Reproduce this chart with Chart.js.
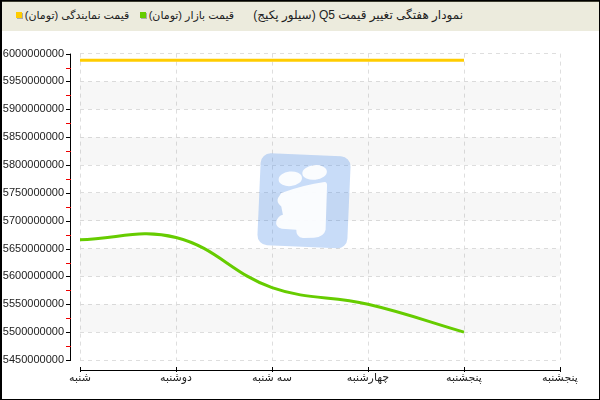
<!DOCTYPE html>
<html>
<head>
<meta charset="utf-8">
<script src="https://cdn.jsdelivr.net/npm/chart.js@4"></script>
<style>
    body { margin: 0; background: #fff; }
    #frame { position: relative; width: 600px; height: 400px; box-sizing: border-box; border: 1px solid #000; border-left-width: 2px; overflow: hidden; }
    #header { position: absolute; left: 0; top: 0; width: 100%; height: 30px; background: #ecebdd; border-top: 1px solid #3d3d30; box-sizing: border-box; }
    #header-inner { position: absolute; right: 136px; top: 6px; direction: rtl; white-space: nowrap; font: 12px 'Liberation Sans', 'DejaVu Sans', sans-serif; color: #222; }
    .legend-item { font-size: 11px; }
    .legend-box { display: inline-block; width: 6px; height: 6px; margin: 0 3px 0 0; box-shadow: 1px 1px 0 #aaa; vertical-align: 1px; }
    #chart-wrap { position: absolute; left: 0; top: 30px; width: 597px; height: 369px; }
</style>
</head>
<body>
<div id="frame">
    <div id="header"><div id="header-inner"></div></div>
    <div id="chart-wrap"><canvas id="weekly-price-chart"></canvas></div>
</div>
<script>
const chartTitle = 'نمودار هفتگی تغییر قیمت Q5 (سیلور پکیج)';
const days = ['شنبه', 'دوشنبه', 'سه شنبه', 'چهارشنبه', 'پنجشنبه', 'پنجشنبه'];
const marketLabel = 'قیمت بازار (تومان)';
const agencyLabel = 'قیمت نمایندگی (تومان)';
const marketPrice = [5666000000, 5670000000, 5580000000, 5550000000, 5500000000];
const agencyPrice = [5988000000, 5988000000, 5988000000, 5988000000, 5988000000];
const yMin = 5450000000;
const yMax = 6000000000;
const yStep = 50000000;

const marketColor = '#66cc00';
const agencyColor = '#ffcc00';
const labelFont = { family: "'Liberation Sans', 'DejaVu Sans', sans-serif", size: 11 };

function renderHeader() {
    const el = document.getElementById('header-inner');
    el.innerHTML = `
        <span>${chartTitle}</span>
        <span class="legend-item" style="margin-right:16px">${marketLabel}<span class="legend-box" style="background:${marketColor}"></span></span>
        <span class="legend-item" style="margin-right:7px">${agencyLabel}<span class="legend-box" style="background:${agencyColor}"></span></span>
    `;
}

// striped bands + watermark behind the lines
const backdropPlugin = {
    id: 'backdrop',
    beforeDatasetsDraw(chart) {
        const { ctx, chartArea: a, scales: { y } } = chart;
        ctx.save();
        ctx.fillStyle = 'rgba(0,0,0,0.03)';
        for (let v = yMin + yStep; v < yMax; v += 2 * yStep) {
            const top = y.getPixelForValue(v + yStep);
            const bottom = y.getPixelForValue(v);
            ctx.fillRect(a.left, top, a.right - a.left, bottom - top);
        }

        // logo watermark
        const cx = (a.left + a.right) / 2 - 16;
        const cy = (a.top + a.bottom) / 2 - 6;
        ctx.translate(cx, cy);
        ctx.save();
        ctx.rotate(2.5 * Math.PI / 180);
        ctx.fillStyle = 'rgba(74,138,232,0.3)';
        ctx.beginPath();
        ctx.roundRect(-45, -46, 90, 92, 10);
        ctx.fill();
        ctx.restore();
        ctx.fillStyle = 'rgba(255,255,255,0.92)';
        ctx.beginPath();
        ctx.ellipse(-13.7, -22, 11.7, 7.3, -0.1, 0, Math.PI * 2);
        ctx.fill();
        ctx.beginPath();
        ctx.ellipse(10.6, -28.4, 12.3, 7.3, -0.1, 0, Math.PI * 2);
        ctx.fill();
        ctx.beginPath();
        ctx.moveTo(-22.7, -7.7);
        ctx.quadraticCurveTo(0, -16, 20.6, -18.7);
        ctx.quadraticCurveTo(23.5, -18.5, 23, -14);
        ctx.lineTo(21.6, 28.9);
        ctx.quadraticCurveTo(20, 36, 10, 37);
        ctx.lineTo(-1, 37.3);
        ctx.quadraticCurveTo(-8, 36, -7.7, 28.9);
        ctx.lineTo(-22, 28);
        ctx.quadraticCurveTo(-29, 26, -27.7, 20.6);
        ctx.quadraticCurveTo(-26, 15, -21.1, 13.9);
        ctx.lineTo(-22.7, 5.6);
        ctx.quadraticCurveTo(-28, 2, -26, -2.7);
        ctx.closePath();
        ctx.fill();
        ctx.restore();
    }
};

// detached axis lines with major/minor ticks
const axesPlugin = {
    id: 'axes',
    afterDraw(chart) {
        const { ctx, chartArea: a, scales: { x, y } } = chart;
        const ax = a.left - 10;
        const ay = a.bottom + 10;
        ctx.save();
        ctx.lineWidth = 1;
        ctx.strokeStyle = '#000';
        ctx.beginPath();
        ctx.moveTo(ax + 0.5, a.top);
        ctx.lineTo(ax + 0.5, a.bottom + 1);
        ctx.moveTo(a.left, ay + 0.5);
        ctx.lineTo(a.right + 1, ay + 0.5);
        y.ticks.forEach(t => {
            const py = Math.round(y.getPixelForValue(t.value)) + 0.5;
            ctx.moveTo(ax - 4, py);
            ctx.lineTo(ax + 1, py);
        });
        x.ticks.forEach((t, i) => {
            const px = Math.round(x.getPixelForValue(i)) + 0.5;
            ctx.moveTo(px, ay - 3);
            ctx.lineTo(px, ay + 2);
        });
        ctx.stroke();
        ctx.strokeStyle = '#ee0000';
        ctx.beginPath();
        for (let v = yMin + yStep / 2; v < yMax; v += yStep) {
            const py = Math.round(y.getPixelForValue(v)) + 0.5;
            ctx.moveTo(ax - 4, py);
            ctx.lineTo(ax + 1, py);
        }
        ctx.stroke();
        ctx.restore();
    }
};

function renderWeeklyPriceChart() {
    const ctx = document.getElementById('weekly-price-chart').getContext('2d');
    return new Chart(ctx, {
        type: 'line',
        data: {
            labels: days,
            datasets: [
                { label: agencyLabel, data: agencyPrice, borderColor: agencyColor, borderWidth: 3, pointRadius: 0, tension: 0.4, fill: false },
                { label: marketLabel, data: marketPrice, borderColor: marketColor, borderWidth: 3, pointRadius: 0, tension: 0.4, fill: false }
            ]
        },
        options: {
            responsive: true,
            maintainAspectRatio: false,
            animation: false,
            layout: { padding: { top: 19, right: 39, bottom: 0, left: 0 } },
            plugins: { legend: { display: false }, tooltip: { enabled: false } },
            scales: {
                x: {
                    offset: false,
                    grid: { color: '#dedede', drawTicks: false },
                    border: { display: false, dash: [4, 4] },
                    ticks: { color: '#222', font: labelFont, padding: 11, maxRotation: 0, autoSkip: false },
                    afterFit(scale) { scale.height = 40; }
                },
                y: {
                    min: yMin,
                    max: yMax,
                    grid: { color: '#dedede', drawTicks: false },
                    border: { display: false, dash: [4, 4] },
                    ticks: { stepSize: yStep, color: '#222', font: labelFont, padding: 16, autoSkip: false, callback: v => String(v) },
                    afterFit(scale) { scale.width = 78; }
                }
            }
        },
        plugins: [backdropPlugin, axesPlugin]
    });
}

renderHeader();
renderWeeklyPriceChart();
</script>
</body>
</html>
